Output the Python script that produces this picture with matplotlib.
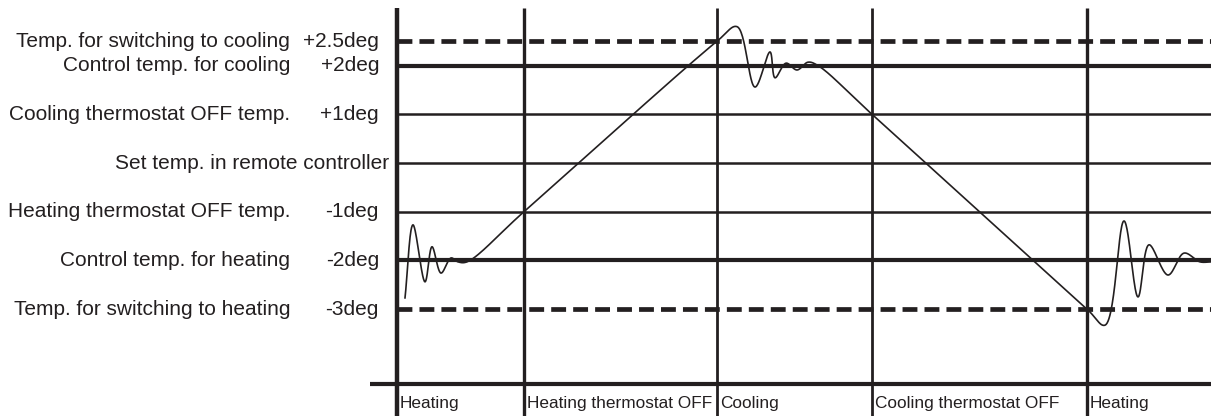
import matplotlib
matplotlib.use("Agg")
import matplotlib.pyplot as plt
from matplotlib import font_manager
import numpy as np

# temperature levels (deg relative to set temp)
level_values = [2.5, 2, 1, 0, -1, -2, -3]
level_names = ["Temp. for switching to cooling", "Control temp. for cooling",
               "Cooling thermostat OFF temp.", "Set temp. in remote controller",
               "Heating thermostat OFF temp.", "Control temp. for heating",
               "Temp. for switching to heating"]
level_tags = ["+2.5deg", "+2deg", "+1deg", "", "-1deg", "-2deg", "-3deg"]
level_dashed = [True, False, False, False, False, False, True]
level_thick = [True, True, False, False, False, True, True]

# phase boundaries (time axis) and phase names
phase_starts = [397, 524, 717, 872, 1087]
phase_names = ["Heating", "Heating thermostat OFF", "Cooling",
               "Cooling thermostat OFF", "Heating"]
phase_widths = [3.2, 2.4, 2.0, 2.0, 2.4]

# room temperature trace
trace_t = [405, 413, 425, 432, 441, 451, 458, 467, 524, 717, 737, 755, 770,
           775, 786, 797, 808, 818, 872, 1087, 1105, 1124, 1138, 1149, 1168,
           1184, 1200, 1211]
trace_deg = [-2.77, -1.27, -2.44, -1.72, -2.26, -1.95, -2.03, -2.03, -1.0, 2.5,
             2.8, 1.56, 2.28, 1.75, 2.05, 1.91, 2.07, 2.0, 1.0, -3.0, -3.33,
             -1.19, -2.75, -1.68, -2.30, -1.85, -2.03, -2.03]

INK = "#231f20"
PX_PER_DEG = 48.7


def catmull_rom(xs, ys, n=30):
    # centripetal catmull-rom, computed in pixel-like space
    P = np.column_stack([xs, np.array(ys) * PX_PER_DEG])
    P = np.vstack([2 * P[0] - P[1], P, 2 * P[-1] - P[-2]])
    out = []
    for i in range(1, len(P) - 2):
        p0, p1, p2, p3 = P[i - 1], P[i], P[i + 1], P[i + 2]
        t0 = 0.0
        t1 = t0 + np.linalg.norm(p1 - p0) ** 0.5
        t2 = t1 + np.linalg.norm(p2 - p1) ** 0.5
        t3 = t2 + np.linalg.norm(p3 - p2) ** 0.5
        t = np.linspace(t1, t2, n)[:, None]
        a1 = (t1 - t) / (t1 - t0) * p0 + (t - t0) / (t1 - t0) * p1
        a2 = (t2 - t) / (t2 - t1) * p1 + (t - t1) / (t2 - t1) * p2
        a3 = (t3 - t) / (t3 - t2) * p2 + (t - t2) / (t3 - t2) * p3
        b1 = (t2 - t) / (t2 - t0) * a1 + (t - t0) / (t2 - t0) * a2
        b2 = (t3 - t) / (t3 - t1) * a2 + (t - t1) / (t3 - t1) * a3
        c = (t2 - t) / (t2 - t1) * b1 + (t - t1) / (t2 - t1) * b2
        out.append(c)
    out = np.vstack(out)
    return out[:, 0], out[:, 1] / PX_PER_DEG


names = {f.name for f in font_manager.fontManager.ttflist}
label_font = "Liberation Sans"
narrow_font = "Liberation Sans Narrow" if "Liberation Sans Narrow" in names else "Liberation Sans"
narrow_size = 14.5 if narrow_font == "Liberation Sans Narrow" else 12.4

fig = plt.figure(figsize=(12.11, 4.16), dpi=100)
ax = fig.add_axes([0, 0, 1, 1])
ax.set_xlim(0, 1211)
ax.set_ylim(-5.195, 3.347)
ax.axis("off")

x_end = 1211
for val, name, tag, dashed, thick in zip(level_values, level_names, level_tags,
                                         level_dashed, level_thick):
    lw = 3.0 if thick else 1.8
    if dashed:
        ax.plot([phase_starts[0], x_end], [val, val], color=INK, lw=3.4,
                dashes=(3.15, 1.5), solid_capstyle="butt", dash_capstyle="butt")
    else:
        ax.plot([phase_starts[0], x_end], [val, val], color=INK, lw=lw,
                solid_capstyle="butt")
    if tag:
        ax.text(290, val, name, ha="right", va="center", fontsize=15,
                family=label_font, color=INK)
        ax.text(379, val, tag, ha="right", va="center", fontsize=15,
                family=label_font, color=INK)
    else:
        ax.text(389, val, name, ha="right", va="center", fontsize=15,
                family=label_font, color=INK)

# phase dividers
for x, w in zip(phase_starts, phase_widths):
    ax.plot([x, x], [3.18, -5.3], color=INK, lw=w, solid_capstyle="butt")

# time axis line
ax.plot([370, x_end], [-4.54, -4.54], color=INK, lw=3.0, solid_capstyle="butt")

for x, name in zip(phase_starts, phase_names):
    ax.text(x + 3, -4.93, name, ha="left", va="center", fontsize=narrow_size,
            family=narrow_font, color=INK)

tx, ty = catmull_rom(trace_t, trace_deg)
ax.plot(tx, ty, color=INK, lw=1.2, zorder=5)

fig.savefig("out.png", dpi=100, facecolor="white")
